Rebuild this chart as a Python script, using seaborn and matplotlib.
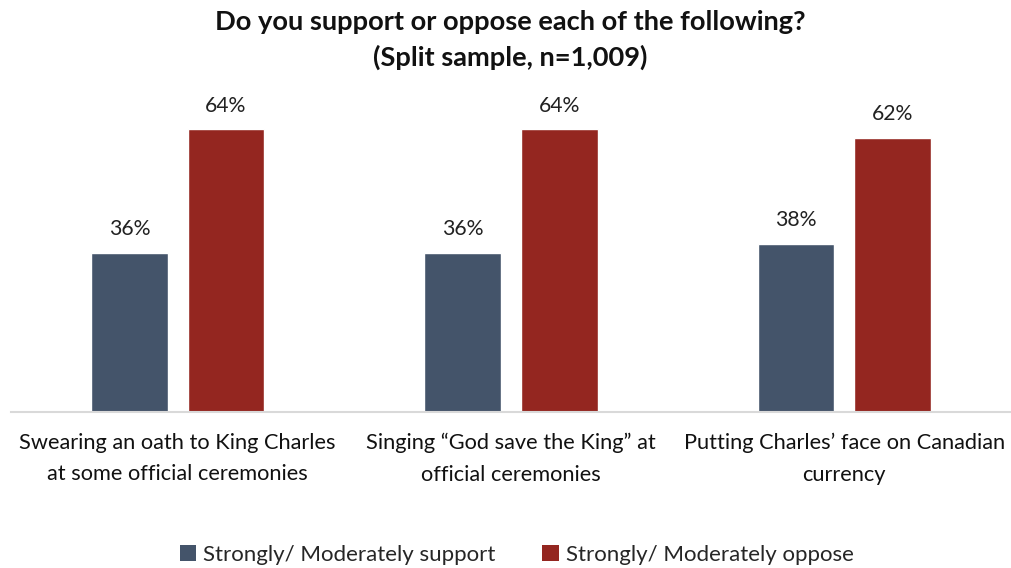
import matplotlib
matplotlib.use("Agg")
import matplotlib.pyplot as plt
from matplotlib.patches import Patch
import seaborn as sns
import pandas as pd

# Survey results
categories = [
    "Swearing an oath to King Charles\nat some official ceremonies",
    "Singing \u201cGod save the King\u201d at\nofficial ceremonies",
    "Putting Charles\u2019 face on Canadian\ncurrency",
]
series_names = ["Strongly/ Moderately support", "Strongly/ Moderately oppose"]
support = [36, 36, 38]
oppose = [64, 64, 62]
colors = ["#44546A", "#942620"]

df = pd.DataFrame({
    "category": categories * 2,
    "series": [series_names[0]] * 3 + [series_names[1]] * 3,
    "value": support + oppose,
})

sns.set_theme(style="white")
plt.rcParams["font.family"] = ["Lato", "DejaVu Sans"]

fig = plt.figure(figsize=(10.11, 5.68), dpi=100)
ax = fig.add_axes([0.0109, 0.2746, 0.9891, 0.5441])

sns.barplot(data=df, x="category", y="value", hue="series", order=categories,
            hue_order=series_names, palette=colors, width=0.58, gap=0.21,
            saturation=1, legend=False, ax=ax)

for container in ax.containers:
    ax.bar_label(container, fmt="%.0f%%", padding=10, fontsize=15.3, color="#222222")

ax.set_ylim(0, 70)
ax.set_xlim(-0.5, 2.5)
ax.set_xlabel("")
ax.set_ylabel("")
ax.set_yticks([])
ax.tick_params(axis="x", length=0, pad=15, labelsize=15.7, labelcolor="#111111")
for lbl in ax.get_xticklabels():
    lbl.set_linespacing(1.72)
for side in ["top", "right", "left"]:
    ax.spines[side].set_visible(False)
ax.spines["bottom"].set_color("#d9d9d9")
ax.spines["bottom"].set_linewidth(1.5)

fig.suptitle("Do you support or oppose each of the following?\n(Split sample, n=1,009)",
             x=0.505, y=0.982, fontsize=19.6, fontweight="bold", linespacing=1.5,
             color="#111111")

handles = [Patch(facecolor=c, edgecolor="none") for c in colors]
fig.legend(handles, series_names, loc="lower center", bbox_to_anchor=(0.511, -0.03),
           ncol=2, frameon=False, fontsize=16, handlelength=0.75, handleheight=0.75,
           handletextpad=0.3, columnspacing=2.1)

fig.savefig("out.png", dpi=100)
